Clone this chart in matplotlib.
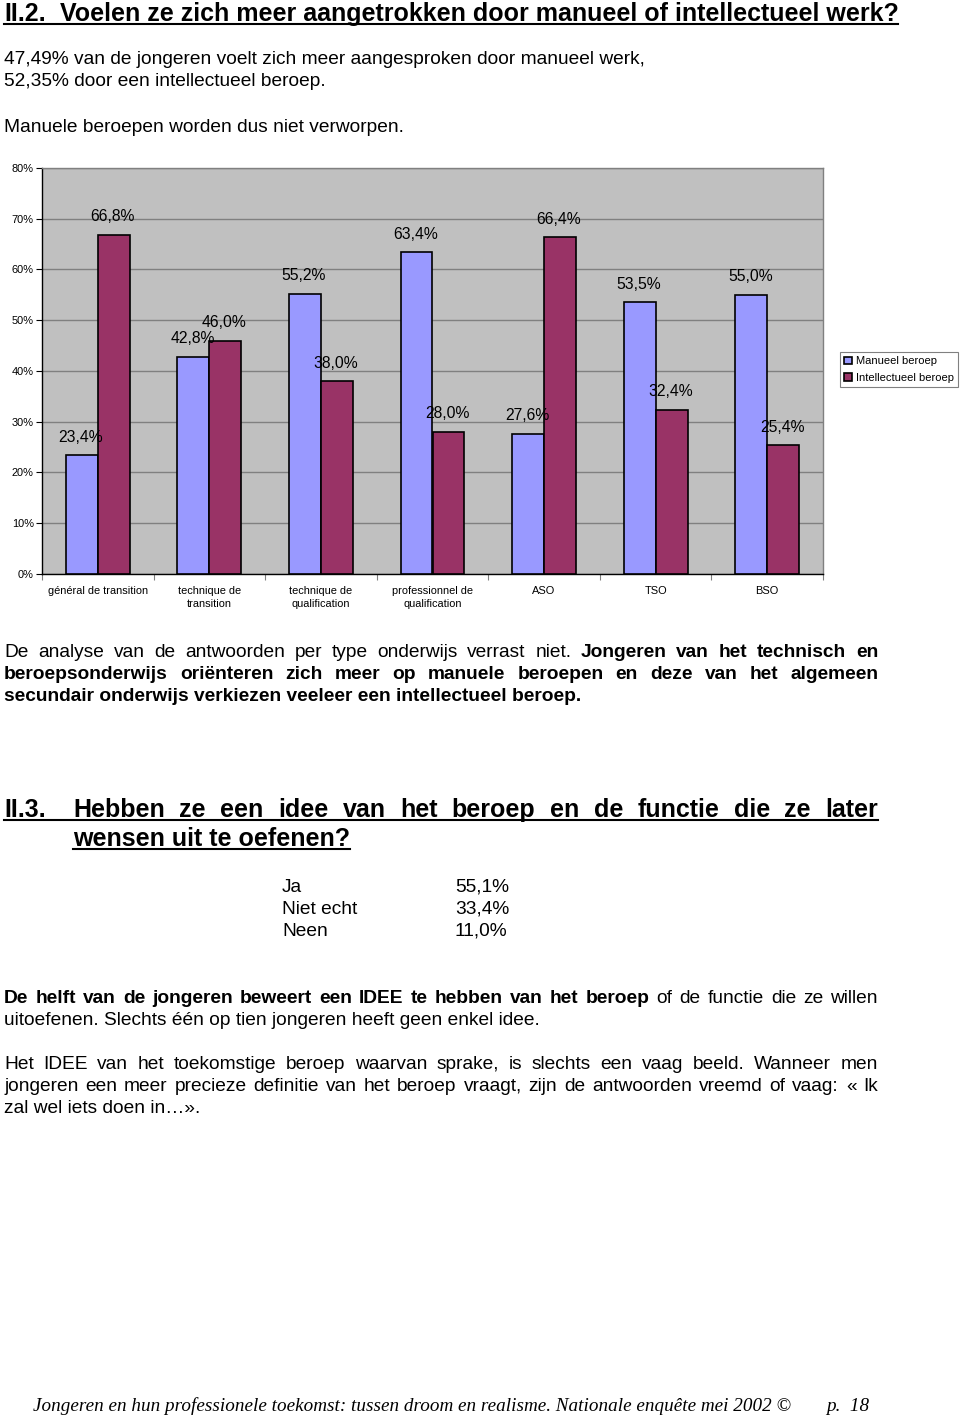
import matplotlib
matplotlib.use("Agg")
import matplotlib.pyplot as plt
import numpy as np
from matplotlib.transforms import Affine2D
from matplotlib.lines import Line2D
from matplotlib.ticker import FuncFormatter, FixedLocator

W, H = 960, 1416

# ---------------- data ----------------
categories = ["général de transition", "technique de\ntransition", "technique de\nqualification",
              "professionnel de\nqualification", "ASO", "TSO", "BSO"]
manueel = [23.4, 42.8, 55.2, 63.4, 27.6, 53.5, 55.0]
intellectueel = [66.8, 46.0, 38.0, 28.0, 66.4, 32.4, 25.4]
series_names = ["Manueel beroep", "Intellectueel beroep"]
y_ticks = [0, 10, 20, 30, 40, 50, 60, 70, 80]

answers = ["Ja", "Niet echt", "Neen"]
answer_pct = ["55,1%", "33,4%", "11,0%"]

# ---------------- page ----------------
fig = plt.figure(figsize=(W / 100, H / 100), dpi=100)
fig.patch.set_facecolor("white")
PX = Affine2D().scale(1 / W, -1 / H).translate(0, 1) + fig.transFigure
renderer = fig.canvas.get_renderer()

SANS = "Liberation Sans"
SERIF = "Liberation Serif"
BODY = 13.8
HEAD = 18


def txt(x, y, s, size=BODY, weight="normal", style="normal", family=SANS, ha="left"):
    return fig.text(x, y, s, transform=PX, fontsize=size, fontweight=weight,
                    fontstyle=style, family=family, ha=ha, va="baseline", color="black")


def jline(y, segments, x0=4, x1=878, size=BODY, family=SANS, style="normal"):
    words = []
    for s, w in segments:
        for word in s.split():
            words.append((word, w))
    arts = [txt(x0, y, wd, size, weight=w, family=family, style=style) for wd, w in words]
    widths = [a.get_window_extent(renderer).width for a in arts]
    gap = (x1 - x0 - sum(widths)) / (len(arts) - 1)
    x = x0
    for a, wdt in zip(arts, widths):
        a.set_x(x)
        x += wdt + gap
    return arts


def uline(x0, x1, y, lw=1.5):
    fig.add_artist(Line2D([x0, x1], [y, y], transform=PX, color="black", lw=lw))


# Title II.2
txt(4, 21, "II.2.", HEAD, weight="bold")
txt(60, 21, "Voelen ze zich meer aangetrokken door manueel of intellectueel werk?", HEAD, weight="bold")
uline(4, 898, 24)

txt(4, 64, "47,49% van de jongeren voelt zich meer aangesproken door manueel werk,")
txt(4, 86, "52,35% door een intellectueel beroep.")
txt(4, 132, "Manuele beroepen worden dus niet verworpen.")

# ---------------- chart ----------------
ax = fig.add_axes([42 / W, 1 - 574 / H, (823 - 42) / W, (574 - 168) / H])
ax.set_facecolor("#C0C0C0")
x = np.arange(len(categories))
bw = 1 / 3.5
b1 = ax.bar(x - bw / 2, manueel, bw, color="#9999FF", edgecolor="black", linewidth=1.2,
            label=series_names[0], zorder=3)
b2 = ax.bar(x + bw / 2, intellectueel, bw, color="#993366", edgecolor="black", linewidth=1.2,
            label=series_names[1], zorder=3)
for bars, vals in ((b1, manueel), (b2, intellectueel)):
    for b, v in zip(bars, vals):
        ax.annotate(f"{v:.1f}%".replace(".", ","), (b.get_x() + b.get_width() / 2, v),
                    xytext=(-1, 18), textcoords="offset pixels", ha="center", va="center",
                    fontsize=11.3, family=SANS, color="black", zorder=5)

ax.set_xlim(-0.5, len(categories) - 0.5)
ax.set_ylim(0, 80)
ax.yaxis.set_major_locator(FixedLocator(y_ticks))
ax.yaxis.set_major_formatter(FuncFormatter(lambda v, p: f"{v:.0f}%"))
ax.set_xticks(x)
ax.set_xticklabels(categories, fontsize=7.9, family=SANS, linespacing=1.4)
ax.xaxis.set_minor_locator(FixedLocator(np.arange(len(categories) + 1) - 0.5))
ax.tick_params(axis="x", which="major", length=0, pad=8.5)
ax.tick_params(axis="x", which="minor", length=4, width=0.8, color="#808080", direction="out")
ax.tick_params(axis="y", which="major", length=4, width=0.8, direction="out", pad=2, labelsize=7.9)
for lab in ax.get_yticklabels():
    lab.set_family(SANS)
ax.grid(axis="y", color="#808080", lw=1.0, zorder=0)
ax.set_axisbelow(True)
ax.spines["left"].set_color("black")
ax.spines["bottom"].set_color("black")
ax.spines["top"].set_color("#808080")
ax.spines["right"].set_color("#808080")
for s in ax.spines.values():
    s.set_linewidth(1.0)

leg = fig.legend(handles=[b1, b2], labels=series_names, loc="upper left",
                 bbox_to_anchor=(840 / W, 1 - 352 / H), frameon=True, fancybox=False,
                 edgecolor="#808080", framealpha=1, prop={"family": SANS, "size": 8},
                 handlelength=0.7, handleheight=0.7, handletextpad=0.3, borderpad=0.4,
                 labelspacing=0.55, borderaxespad=0)
leg.get_frame().set_linewidth(0.8)

# ---------------- text below chart ----------------
jline(657, [("De analyse van de antwoorden per type onderwijs verrast niet.", "normal"),
            ("Jongeren van het technisch en", "bold")])
jline(679, [("beroepsonderwijs oriënteren zich meer op manuele beroepen en deze van het algemeen", "bold")])
txt(4, 701, "secundair onderwijs verkiezen veeleer een intellectueel beroep.", weight="bold")

# Heading II.3
txt(4, 817, "II.3.", HEAD, weight="bold")
jline(817, [("Hebben ze een idee van het beroep en de functie die ze later", "bold")], x0=73, x1=878, size=HEAD)
uline(4, 878, 820)
t2 = txt(73, 846, "wensen uit te oefenen?", HEAD, weight="bold")
uline(73, 73 + t2.get_window_extent(renderer).width, 849)

for i, (a, p) in enumerate(zip(answers, answer_pct)):
    txt(282, 892 + 22 * i, a)
    txt(455, 892 + 22 * i, p)

jline(1003, [("De helft van de jongeren beweert een IDEE te hebben van het beroep", "bold"),
             ("of de functie die ze willen", "normal")])
txt(4, 1025, "uitoefenen. Slechts één op tien jongeren heeft geen enkel idee.")

jline(1069, [("Het IDEE van het toekomstige beroep waarvan sprake, is slechts een vaag beeld. Wanneer men", "normal")])
jline(1091, [("jongeren een meer precieze definitie van het beroep vraagt, zijn de antwoorden vreemd of vaag: « Ik", "normal")])
txt(4, 1113, "zal wel iets doen in…».")

txt(33, 1411, "Jongeren en hun professionele toekomst: tussen droom en realisme. Nationale enquête mei 2002 ©",
    BODY, style="italic", family=SERIF)
txt(826, 1411, "p.  18", BODY, style="italic", family=SERIF)

fig.savefig("out.png", dpi=100, facecolor="white")
